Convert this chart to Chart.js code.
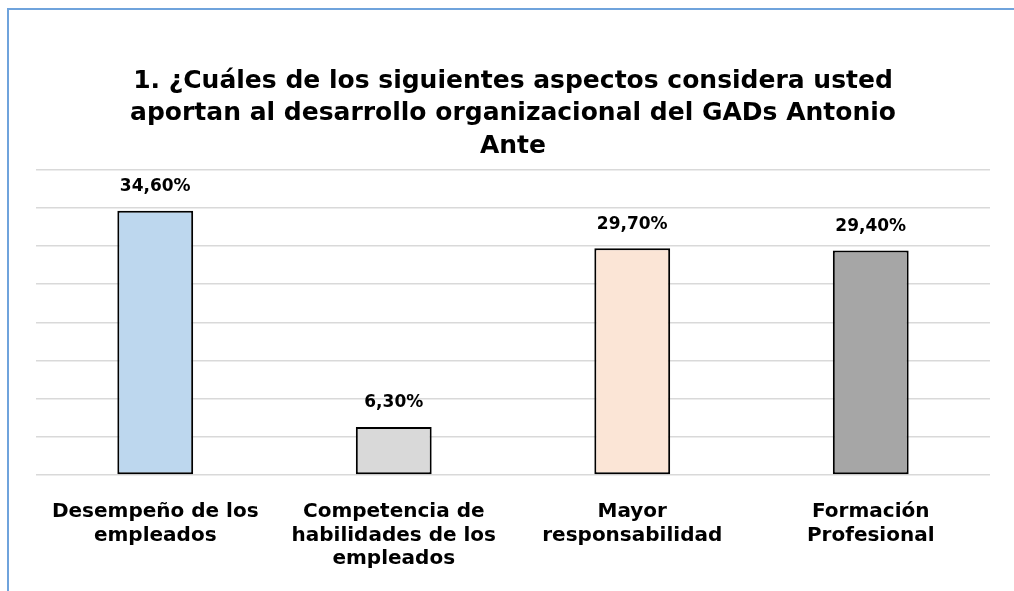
<!DOCTYPE html>
<html lang="es">
<head>
    <meta charset="UTF-8">
    <title>Aspectos que aportan al desarrollo organizacional</title>
    <script src="https://cdn.jsdelivr.net/npm/chart.js"></script>
    <style>
        html, body {
            margin: 0;
            padding: 0;
            width: 1014px;
            height: 591px;
            overflow: hidden;
            background: #fff;
        }
        .marco {
            position: absolute;
            left: 7px;
            top: 8px;
            width: 1040px;
            height: 620px;
            border: 2px solid #6fa3dc;
            pointer-events: none;
        }
        .wrap {
            position: absolute;
            left: 0;
            top: 0;
            width: 1014px;
            height: 591px;
        }
    </style>
</head>
<body>
    <div class="wrap"><canvas id="grafico"></canvas></div>
    <div class="marco"></div>

    <script>
        const categorias = [
            ['Desempeño de los', 'empleados'],
            ['Competencia de', 'habilidades de los', 'empleados'],
            ['Mayor', 'responsabilidad'],
            ['Formación', 'Profesional']
        ];
        const porcentajes = [34.6, 6.3, 29.7, 29.4];
        const colores = ['#bdd7ee', '#d9d9d9', '#fbe5d6', '#a6a6a6'];
        const titulo = [
            '1. ¿Cuáles de los siguientes aspectos considera usted',
            'aportan al desarrollo organizacional del GADs Antonio',
            'Ante'
        ];

        // etiquetas encima de cada barra
        const etiquetas = {
            id: 'etiquetas',
            afterDatasetsDraw(chart) {
                const ctx = chart.ctx;
                const meta = chart.getDatasetMeta(0);
                ctx.save();
                ctx.font = 'bold 17px "DejaVu Sans"';
                ctx.fillStyle = '#000';
                ctx.textAlign = 'center';
                ctx.textBaseline = 'middle';
                meta.data.forEach((bar, i) => {
                    const txt = porcentajes[i].toFixed(2).replace('.', ',') + '%';
                    ctx.fillText(txt, bar.x, bar.y - 24);
                });
                ctx.restore();
            }
        };

        new Chart(document.getElementById('grafico'), {
            type: 'bar',
            data: {
                labels: categorias,
                datasets: [{
                    data: porcentajes,
                    backgroundColor: colores,
                    borderColor: '#000',
                    borderWidth: 2,
                    borderSkipped: false,
                    categoryPercentage: 1,
                    barPercentage: 0.318
                }]
            },
            options: {
                responsive: true,
                maintainAspectRatio: false,
                animation: false,
                layout: {
                    padding: { left: 36, right: 24, top: 0, bottom: 0 }
                },
                plugins: {
                    legend: { display: false },
                    tooltip: { enabled: false },
                    title: {
                        display: true,
                        text: titulo,
                        color: '#000',
                        font: { family: 'DejaVu Sans', weight: 'bold', size: 25, lineHeight: 1.3 },
                        padding: { top: 65, bottom: 7 }
                    }
                },
                scales: {
                    x: {
                        grid: { display: false },
                        border: { display: false },
                        ticks: {
                            color: '#000',
                            padding: 17,
                            maxRotation: 0,
                            font: { family: 'DejaVu Sans', weight: 'bold', size: 20, lineHeight: 1.18 }
                        },
                        afterFit(scale) { scale.height = 116; }
                    },
                    y: {
                        min: 0,
                        max: 40,
                        ticks: { display: false, stepSize: 5 },
                        grid: { color: '#d9d9d9', lineWidth: 1.5, drawTicks: false },
                        border: { display: false },
                        afterFit(scale) { scale.width = 0; }
                    }
                }
            },
            plugins: [etiquetas]
        });
    </script>
</body>
</html>
